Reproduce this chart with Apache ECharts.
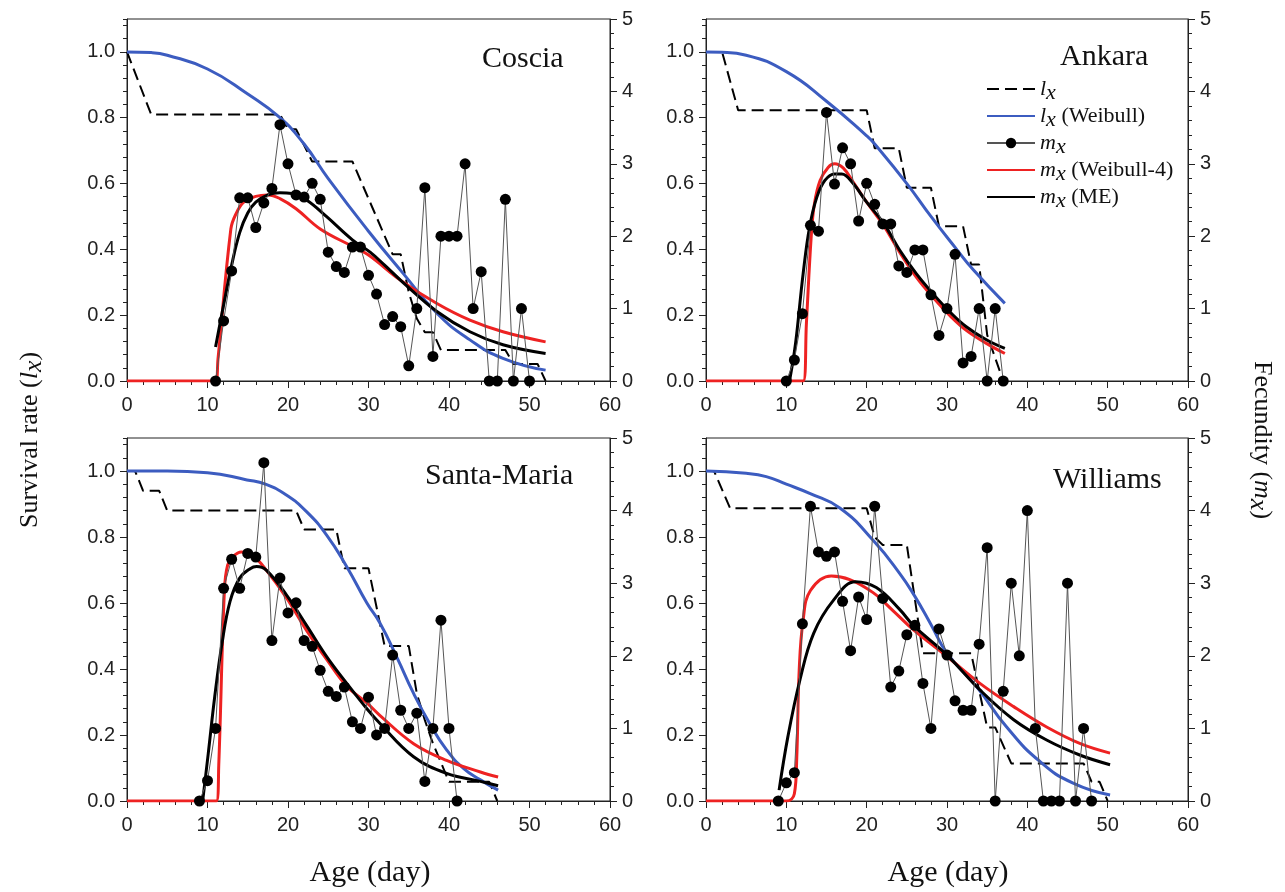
<!DOCTYPE html>
<html>
<head>
<meta charset="UTF-8">
<title>lx mx</title>
<script src="https://cdn.jsdelivr.net/npm/echarts@6.0.0/dist/echarts.min.js"></script>
<style>body{margin:0;background:#fff}</style>
</head>
<body>
<div id="chart" style="width:1285px;height:892px"></div>
<script type="text/javascript">
// axis ticks
var xTicks = [0, 10, 20, 30, 40, 50, 60];
var lTicks = [0, 0.2, 0.4, 0.6, 0.8, 1.0];
var mTicks = [0, 1, 2, 3, 4, 5];

// Coscia
var cosciaLx = [[0,1.0],[3,0.81],[19,0.81],[20,0.765],[21,0.765],[23,0.667],[28,0.667],[33,0.385],[34,0.385],[35,0.27],[36,0.19],[37,0.148],[38,0.148],[39,0.094],[47,0.094],[48,0.052],[51,0.052],[52,0]];
var cosciaLxW = [[0,1.0],[3,0.998],[5,0.99],[10,0.948],[15,0.872],[19,0.8],[22,0.72],[25,0.615],[30,0.455],[34.3,0.327],[38.5,0.206],[42.6,0.125],[46.7,0.069],[52,0.033]];
var cosciaMxStart = 11;
var cosciaMx = [0,0.83,1.52,2.53,2.53,2.12,2.46,2.66,3.54,3.0,2.57,2.54,2.73,2.51,1.78,1.58,1.5,1.85,1.85,1.46,1.2,0.78,0.89,0.75,0.21,1.0,2.67,0.34,2.0,2.0,2.0,3.0,1.0,1.51,0,0,2.51,0,1.0,0];
var cosciaMxW4 = [[0,0],[11,0],[11.3,0.3],[12.9,2.1],[13.5,2.3],[14.5,2.47],[16,2.55],[17.5,2.57],[19,2.52],[21,2.38],[24,2.1],[28,1.86],[30,1.74],[34,1.39],[38.5,1.07],[42.6,0.84],[46.7,0.68],[52,0.54]];
var cosciaMxME = [[11,0.47],[12,1.05],[13,1.6],[14,2.05],[15,2.32],[16,2.47],[17.5,2.57],[19,2.6],[20.5,2.59],[22.3,2.5],[24.8,2.27],[28,1.95],[30.2,1.78],[32,1.6],[34.3,1.36],[38.5,0.96],[42.6,0.68],[46.7,0.5],[52,0.38]];

// Ankara
var ankaraLx = [[0,1],[2,1],[4,0.823],[20,0.823],[21,0.707],[24,0.707],[25,0.587],[28,0.587],[29,0.47],[32,0.47],[33,0.354],[34,0.354],[35,0.14],[36,0.07],[37,0]];
var ankaraLxW = [[0,1],[2,0.999],[5,0.99],[10,0.94],[15,0.85],[20,0.745],[21,0.72],[25,0.6],[28,0.5],[31.2,0.4],[33.3,0.337],[37.2,0.236]];
var ankaraMxStart = 10;
var ankaraMx = [0,0.29,0.93,2.15,2.07,3.71,2.72,3.22,3.0,2.21,2.73,2.44,2.17,2.17,1.59,1.5,1.81,1.81,1.19,0.63,1.0,1.75,0.25,0.34,1.0,0,1.0,0];
var ankaraMxW4 = [[0,0],[12.1,0],[12.5,0.8],[13.1,2.0],[13.5,2.45],[14.2,2.77],[15.2,2.95],[16,3.0],[17.1,2.94],[18.3,2.75],[20,2.47],[22.1,2.15],[24.1,1.78],[26.2,1.43],[28.3,1.15],[30.4,0.9],[32.4,0.7],[34.9,0.52],[37.2,0.38]];
var ankaraMxME = [[10.4,0],[11,0.4],[11.3,0.66],[12.1,1.49],[12.9,2.13],[13.8,2.54],[14.8,2.77],[16,2.86],[16.9,2.86],[18.3,2.73],[20,2.47],[22.1,2.18],[24.1,1.81],[26.2,1.48],[28.3,1.2],[30.4,0.95],[32.4,0.75],[34.9,0.57],[37.2,0.45]];

// Santa-Maria
var smLx = [[0,1],[1,1],[2,0.94],[4,0.94],[5,0.88],[21,0.88],[22,0.823],[26,0.823],[27,0.705],[30,0.705],[32,0.47],[35,0.47],[36,0.326],[37,0.245],[38,0.175],[40,0.058],[45,0.058],[46,0]];
var smLxW = [[0,1],[5,1.0],[10,0.995],[14.9,0.973],[17.2,0.96],[19.8,0.927],[22.3,0.877],[24.8,0.806],[27.3,0.71],[29.8,0.6],[31.4,0.54],[33.5,0.437],[35.6,0.326],[37.6,0.235],[39.7,0.155],[41.8,0.099],[43.9,0.064],[46.1,0.033]];
var smMxStart = 9;
var smMx = [0,0.28,1.0,2.93,3.33,2.93,3.41,3.36,4.66,2.21,3.07,2.59,2.73,2.21,2.13,1.8,1.51,1.44,1.57,1.09,1.0,1.43,0.91,1.0,2.01,1.25,1.0,1.21,0.27,1.0,2.49,1.0,0];
var smMxW4 = [[0,0],[11.1,0],[11.4,0.5],[12.1,2.9],[12.5,3.25],[13.2,3.37],[14.2,3.43],[15.7,3.37],[17.3,3.18],[19.8,2.8],[22.3,2.35],[24.8,1.95],[27.3,1.58],[29.8,1.35],[31.4,1.18],[35.6,0.79],[39.7,0.56],[43.9,0.4],[46.1,0.33]];
var smMxME = [[9.4,0],[10.1,0.66],[10.9,1.44],[11.8,2.17],[12.8,2.75],[14,3.07],[15.3,3.2],[16.1,3.23],[17.3,3.18],[19.8,2.84],[22.3,2.42],[24.8,1.99],[27.3,1.62],[29.8,1.27],[31.4,1.07],[35.6,0.61],[39.7,0.38],[43.9,0.27],[46.1,0.21]];

// Williams
var wLx = [[0,1],[1,1],[3,0.887],[20,0.887],[21,0.8],[22,0.776],[25,0.776],[27,0.448],[33,0.448],[35,0.223],[36,0.223],[38,0.114],[47,0.114],[48,0.058],[49,0.058],[50,0]];
var wLxW = [[0,1],[5,0.993],[7.5,0.983],[10,0.96],[12.9,0.932],[16.7,0.887],[20.8,0.79],[24.1,0.69],[26,0.62],[28,0.535],[30,0.448],[33.7,0.346],[37.4,0.225],[41.6,0.119],[45.7,0.054],[50.3,0.018]];
var wMxStart = 9;
var wMx = [0,0.25,0.39,2.44,4.06,3.43,3.37,3.43,2.75,2.07,2.81,2.5,4.06,2.79,1.57,1.79,2.29,2.42,1.62,1.0,2.37,2.01,1.38,1.25,1.25,2.16,3.49,0,1.51,3.0,2.0,4.0,1.0,0,0,0,3.0,0,1.0,0];
var wMxW4 = [[0,0],[10,0],[11,0.1],[11.3,0.6],[11.6,1.8],[12.1,2.5],[13,2.9],[15.6,3.1],[17.9,3.05],[20.8,2.87],[23.3,2.62],[25.8,2.36],[30,1.99],[34.1,1.62],[38.3,1.3],[42.4,1.02],[46.6,0.79],[50.3,0.66]];
var wMxME = [[9.1,0.15],[10.2,0.89],[11.7,1.67],[13.4,2.31],[15.9,2.77],[18.6,3.02],[21.2,2.94],[24.1,2.64],[25.8,2.42],[30,2.01],[34.1,1.53],[38.3,1.12],[42.4,0.84],[46.6,0.63],[50.3,0.5]];

var panels = [
	{name:'Coscia', grid:{left:127, top:19, width:483, height:362}, tx:482, ty:44, lx:cosciaLx, lxW:cosciaLxW, mxStart:cosciaMxStart, mx:cosciaMx, w4:cosciaMxW4, me:cosciaMxME},
	{name:'Ankara', grid:{left:706, top:19, width:482, height:362}, tx:1060, ty:42, lx:ankaraLx, lxW:ankaraLxW, mxStart:ankaraMxStart, mx:ankaraMx, w4:ankaraMxW4, me:ankaraMxME},
	{name:'Santa-Maria', grid:{left:127, top:438, width:483, height:363}, tx:425, ty:461, lx:smLx, lxW:smLxW, mxStart:smMxStart, mx:smMx, w4:smMxW4, me:smMxME},
	{name:'Williams', grid:{left:706, top:438, width:482, height:363}, tx:1053, ty:465, lx:wLx, lxW:wLxW, mxStart:wMxStart, mx:wMx, w4:wMxW4, me:wMxME}
];

var serif = '"Liberation Serif", "Times New Roman", serif';
var sans = '"Liberation Sans", Arial, sans-serif';
var axisColor = '#222';
var lab = {color:'#222', fontSize:20, fontFamily:sans};

var grids = [], xAxes = [], yAxes = [], series = [], titles = [];
for (var g = 0; g < panels.length; g++) {
	var p = panels[g];
	var gr = p.grid;
	grids.push({left:gr.left, top:gr.top, width:gr.width, height:gr.height, show:true, borderColor:axisColor, borderWidth:1, containLabel:false});
	titles.push({text:p.name, left:p.tx, top:p.ty, padding:0, textStyle:{fontFamily:serif, fontSize:30, fontWeight:'normal', color:'#111'}});
	xAxes.push({
		gridIndex:g, type:'value', position:'bottom',
		min:xTicks[0], max:xTicks[xTicks.length-1], interval:xTicks[1]-xTicks[0],
		axisLine:{show:true, lineStyle:{color:axisColor}},
		axisTick:{length:7, lineStyle:{color:axisColor}},
		minorTick:{show:true, splitNumber:5, length:4, lineStyle:{color:axisColor}},
		axisLabel:Object.assign({margin:14}, lab),
		splitLine:{show:false}
	});
	// left: survival rate
	yAxes.push({
		gridIndex:g, type:'value', position:'left', min:0, max:1.1, interval:0.2,
		axisLine:{show:true, lineStyle:{color:axisColor}},
		axisTick:{length:7, lineStyle:{color:axisColor}, customValues:lTicks},
		axisLabel:Object.assign({margin:12, customValues:lTicks, formatter:function(v){ return v > 1.05 ? '' : v.toFixed(1); }}, lab),
		splitLine:{show:false}
	});
	// left minor ticks
	yAxes.push({
		gridIndex:g, type:'value', position:'left', min:0, max:1.1, interval:0.04,
		axisLine:{show:false}, axisTick:{length:4, lineStyle:{color:axisColor}},
		axisLabel:{show:false}, splitLine:{show:false}
	});
	// right: fecundity
	yAxes.push({
		gridIndex:g, type:'value', position:'right',
		min:mTicks[0], max:mTicks[mTicks.length-1], interval:1,
		axisLine:{show:true, lineStyle:{color:axisColor}},
		axisTick:{length:7, lineStyle:{color:axisColor}},
		minorTick:{show:true, splitNumber:5, length:4, lineStyle:{color:axisColor}},
		axisLabel:Object.assign({margin:12}, lab),
		splitLine:{show:false}
	});
	var mxData = p.mx.map(function(v, i){ return [this.s + i, v]; }, {s:p.mxStart});
	series.push({name:'lx', type:'line', xAxisIndex:g, yAxisIndex:3*g, data:p.lx, symbol:'none',
		lineStyle:{color:'#000', width:2, type:[12,6]}, itemStyle:{color:'#000'}, z:2});
	series.push({name:'lx (Weibull)', type:'line', xAxisIndex:g, yAxisIndex:3*g, data:p.lxW, symbol:'none', smooth:0.5,
		lineStyle:{color:'#3c5cc0', width:3}, itemStyle:{color:'#3c5cc0'}, z:3});
	series.push({name:'mx (Weibull-4)', type:'line', xAxisIndex:g, yAxisIndex:3*g+2, data:p.w4, symbol:'none', smooth:0.4,
		lineStyle:{color:'#ee2222', width:3}, itemStyle:{color:'#ee2222'}, z:3});
	series.push({name:'mx (ME)', type:'line', xAxisIndex:g, yAxisIndex:3*g+2, data:p.me, symbol:'none', smooth:0.4,
		lineStyle:{color:'#000', width:3}, itemStyle:{color:'#000'}, z:4});
	series.push({name:'mx', type:'line', xAxisIndex:g, yAxisIndex:3*g+2, data:mxData, symbol:'circle', symbolSize:11, showAllSymbol:true,
		lineStyle:{color:'#555', width:1}, itemStyle:{color:'#000'}, z:5});
}

var richSub = {
	i:{fontFamily:serif, fontSize:22, fontStyle:'italic', color:'#111'},
	s:{fontFamily:serif, fontSize:22, fontStyle:'italic', color:'#111', padding:[8,0,0,0]},
	n:{fontFamily:serif, fontSize:22, color:'#111'}
};

function subName(name) {
	var m = name.match(/^(l|m)x(.*)$/);
	return '{i|' + m[1] + '}{s|x}' + (m[2] ? '{n|' + m[2] + '}' : '');
}

var noDot = {opacity:0};
var mychart = echarts.init(document.getElementById('chart'));
var option = {
	animation:false,
	backgroundColor:'#fff',
	title:titles,
	grid:grids,
	xAxis:xAxes,
	yAxis:yAxes,
	legend:{
		data:[
			{name:'lx', itemStyle:noDot},
			{name:'lx (Weibull)', itemStyle:noDot},
			{name:'mx'},
			{name:'mx (Weibull-4)', itemStyle:noDot},
			{name:'mx (ME)', itemStyle:noDot}
		],
		orient:'vertical', left:981, top:73, itemWidth:48, itemHeight:13, itemGap:1,
		selectedMode:false,
		formatter:subName,
		textStyle:{fontFamily:serif, fontSize:22, color:'#111', rich:richSub}
	},
	graphic:[
		{type:'text', x:30, y:440, rotation:Math.PI/2,
			style:{text:'Survival rate ({i|l}{s|x})', font:'26px ' + serif, fill:'#111', align:'center', verticalAlign:'middle', textAlign:'center', textVerticalAlign:'middle',
				rich:{i:{fontFamily:serif, fontSize:26, fontStyle:'italic'}, s:{fontFamily:serif, fontSize:26, fontStyle:'italic', padding:[9,0,0,0]}}}},
		{type:'text', x:1262, y:440, rotation:-Math.PI/2,
			style:{text:'Fecundity ({i|m}{s|x})', font:'26px ' + serif, fill:'#111', align:'center', verticalAlign:'middle', textAlign:'center', textVerticalAlign:'middle',
				rich:{i:{fontFamily:serif, fontSize:26, fontStyle:'italic'}, s:{fontFamily:serif, fontSize:26, fontStyle:'italic', padding:[9,0,0,0]}}}},
		{type:'text', x:370, y:873,
			style:{text:'Age (day)', font:'30px ' + serif, fill:'#111', align:'center', verticalAlign:'middle', textAlign:'center', textVerticalAlign:'middle'}},
		{type:'text', x:948, y:873,
			style:{text:'Age (day)', font:'30px ' + serif, fill:'#111', align:'center', verticalAlign:'middle', textAlign:'center', textVerticalAlign:'middle'}}
	],
	series:series
};
mychart.setOption(option);
</script>
</body>
</html>
